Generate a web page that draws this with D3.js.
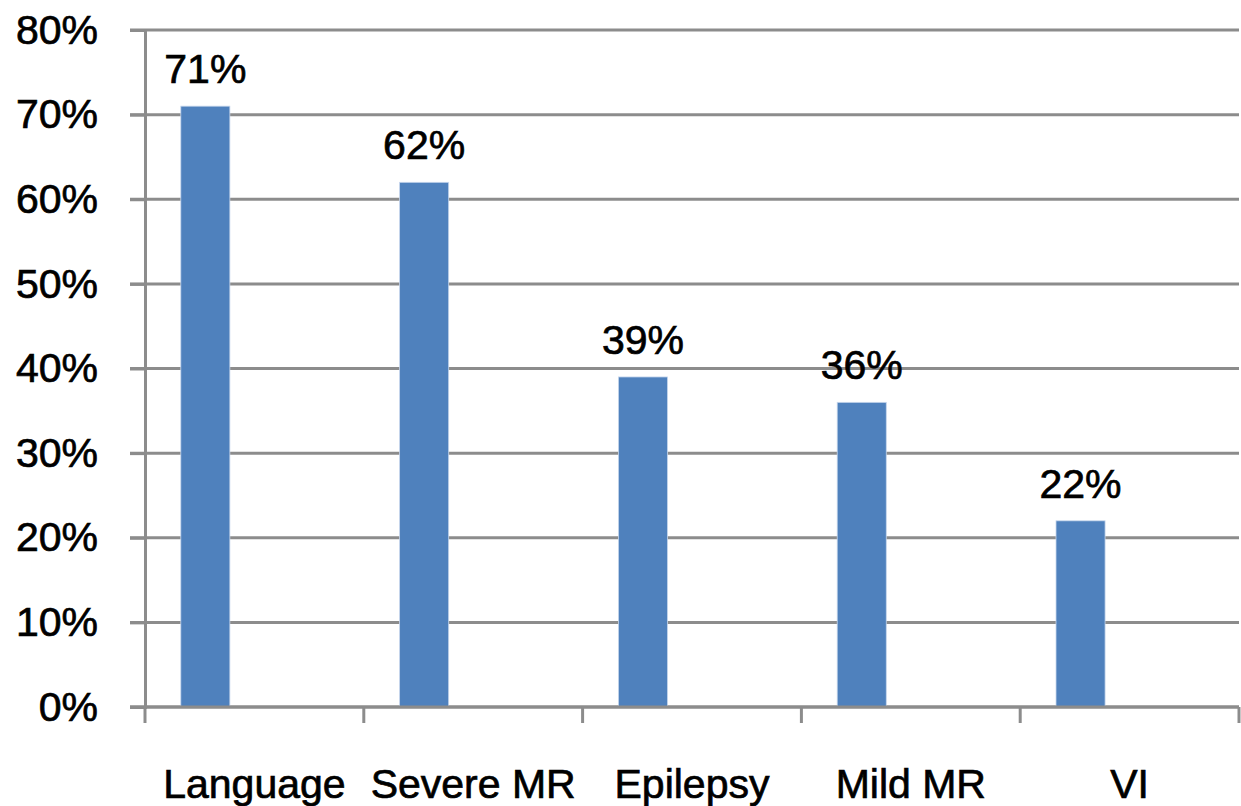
<!DOCTYPE html>
<html>
<head>
<meta charset="utf-8">
<script src="https://cdn.jsdelivr.net/npm/d3@7"></script>
<style>
  html, body { margin: 0; padding: 0; background: #fff; }
  svg { display: block; }
  text { font-family: "Liberation Sans", Arial, sans-serif; fill: #000; stroke: #000; stroke-width: 0.7px; }
</style>
</head>
<body>
<svg id="chart" width="1241" height="806"></svg>
<script>
// Share of cases per comorbidity
const categories = ["Language", "Severe MR", "Epilepsy", "Mild MR", "VI"];
const values = [71, 62, 39, 36, 22];
const yTicks = [0, 10, 20, 30, 40, 50, 60, 70, 80];
// three series slots per category; only the first one carries data
const seriesSlots = ["s1", "s2", "s3"];

const W = 1241, H = 806;
const margin = { left: 145, right: 2, top: 30, bottom: 99 };
const svg = d3.select("#chart");

const x = d3.scaleBand()
  .domain(categories)
  .range([margin.left, W - margin.right])
  .padding(0);

const xs = d3.scaleBand()
  .domain(seriesSlots)
  .range([0, x.bandwidth()])
  .paddingInner(0)
  .paddingOuter(0.73);

const y = d3.scaleLinear()
  .domain([0, 80])
  .range([H - margin.bottom, margin.top]);

const gridColor = "#8c8c8c";
const fontSize = 41;

// horizontal gridlines
svg.append("g")
  .selectAll("line")
  .data(yTicks)
  .join("line")
  .attr("x1", margin.left - 15)
  .attr("x2", W - margin.right)
  .attr("y1", d => y(d))
  .attr("y2", d => y(d))
  .attr("stroke", gridColor)
  .attr("stroke-width", 3);

// y axis
const yAxis = svg.append("g")
  .attr("transform", `translate(${margin.left},0)`)
  .call(d3.axisLeft(y).tickValues(yTicks).tickFormat(d => d + "%").tickSize(15).tickPadding(32));
yAxis.select(".domain").attr("stroke", gridColor).attr("stroke-width", 3);
yAxis.selectAll(".tick line").attr("stroke", gridColor).attr("stroke-width", 3);
yAxis.selectAll(".tick text")
  .attr("font-size", fontSize)
  .attr("font-family", "Liberation Sans, Arial, sans-serif")
  .attr("fill", "#000");

// bars
svg.append("g")
  .selectAll("rect")
  .data(categories.map((c, i) => ({ c, v: values[i] })))
  .join("rect")
  .attr("x", d => x(d.c) + xs("s1"))
  .attr("width", xs.bandwidth())
  .attr("y", d => y(d.v))
  .attr("height", d => y(0) - y(d.v))
  .attr("fill", "#4f81bd")
  .attr("stroke", "#c6d6ec")
  .attr("stroke-width", 0.8);

// value labels
svg.append("g")
  .selectAll("text")
  .data(categories.map((c, i) => ({ c, v: values[i] })))
  .join("text")
  .attr("x", d => x(d.c) + xs("s1") + xs.bandwidth() / 2)
  .attr("y", d => y(d.v) - 23)
  .attr("text-anchor", "middle")
  .attr("font-size", fontSize)
  .text(d => d.v + "%");

// x axis with ticks between categories
const xAxisG = svg.append("g").attr("transform", `translate(0,${y(0)})`);
xAxisG.append("line")
  .attr("x1", margin.left - 15)
  .attr("x2", W - margin.right)
  .attr("stroke", gridColor)
  .attr("stroke-width", 3);
const bounds = categories.map(c => x(c)).concat([x.range()[1]]);
xAxisG.selectAll("line.tick")
  .data(bounds)
  .join("line")
  .attr("class", "tick")
  .attr("x1", d => d).attr("x2", d => d)
  .attr("y1", 0).attr("y2", 16)
  .attr("stroke", gridColor)
  .attr("stroke-width", 3);
xAxisG.selectAll("text")
  .data(categories)
  .join("text")
  .attr("x", d => x(d) + x.bandwidth() / 2)
  .attr("y", 91)
  .attr("text-anchor", "middle")
  .attr("font-size", fontSize)
  .text(d => d);
</script>
</body>
</html>
